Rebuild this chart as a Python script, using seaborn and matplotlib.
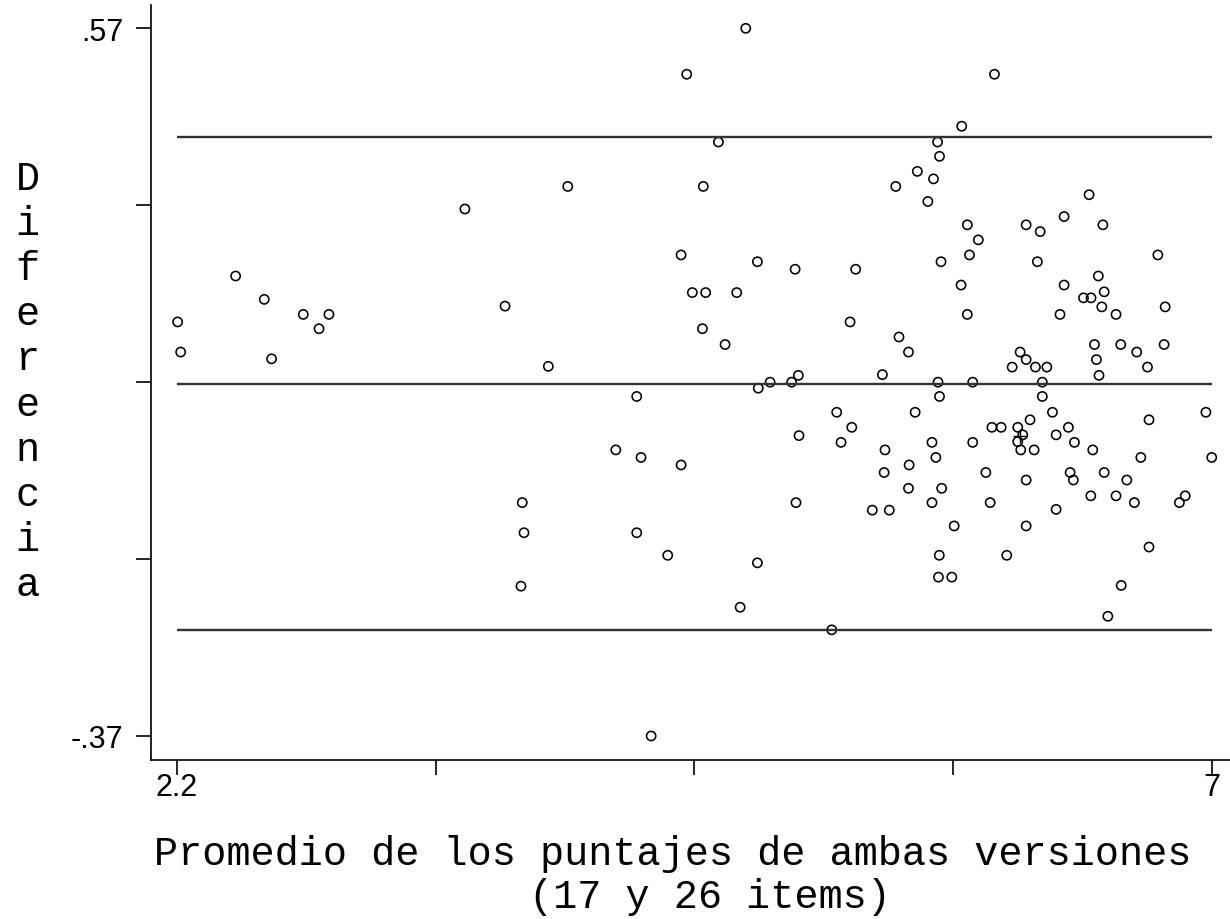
import numpy as np
import pandas as pd
import matplotlib
matplotlib.use("Agg")
import matplotlib.pyplot as plt
import seaborn as sns

# ====================================
# DATA
# ====================================

promedio = [
    2.203, 2.217, 2.472, 2.605, 2.639, 2.786, 2.859, 2.905,
    3.536, 3.722, 3.923, 4.013, 3.802, 3.810, 3.796,
    4.236, 4.333, 4.353, 4.333, 4.400, 4.477, 4.539, 4.539, 4.565,
    4.591, 4.638, 4.642, 4.653,
    4.712, 4.743, 4.797, 4.839, 4.893, 4.897, 4.952, 5.052, 5.068, 5.083,
    5.323, 5.349, 5.473, 5.535, 5.550, 5.594, 5.635, 5.684, 5.710, 5.729,
    5.738, 5.745, 5.731,
    5.738, 5.261, 5.625, 5.331, 5.086, 5.281, 5.703, 5.485, 5.721, 5.597,
    5.481, 5.594, 5.748, 5.703, 5.072, 5.426, 5.505, 5.737, 5.733, 5.795,
    4.893, 4.813, 5.238,
    5.993, 5.841, 6.432, 6.316, 5.867, 6.140, 6.205, 6.496, 5.918, 5.877,
    6.192, 6.751, 5.838, 6.316, 6.475, 6.502, 6.406, 6.441,
    6.491, 6.785, 5.867, 6.297, 6.557, 6.457, 6.579, 6.780, 6.653, 6.112,
    6.140, 6.466, 6.075, 6.183, 6.236, 6.703, 6.478, 5.892, 6.215, 6.215,
    6.262, 6.974, 6.158, 6.710, 5.981, 6.024, 6.101, 6.336,
    6.124, 6.101, 6.279, 6.364, 5.892, 6.115, 6.177, 6.449, 6.672, 7.001,
    5.953, 6.344, 6.359, 6.502, 6.140, 6.607, 5.973, 6.440, 6.557, 6.642,
    6.878, 6.851, 6.279, 5.806, 6.140, 6.710, 6.050, 6.581, 6.519,
]

diferencia = [
    0.180, 0.140, 0.241, 0.210, 0.131, 0.190, 0.171, 0.190,
    0.330, 0.201, 0.121, 0.360, -0.060, -0.100, -0.171,
    0.010, 0.081, 0.000, -0.100, -0.370, -0.130, -0.010, 0.269, 0.509,
    0.219, 0.171, 0.360, 0.219,
    0.419, 0.150, 0.219, 0.570, 0.260, 0.092, 0.100, 0.100, 0.250, 0.109,
    0.180, 0.250, 0.110, 0.360, 0.160, 0.140, 0.380, 0.340, 0.370, 0.419,
    0.400, 0.260, 0.100,
    0.081, 0.060, 0.060, 0.040, 0.029, 0.020, 0.020, 0.010, 0.000, -0.010,
    -0.020, -0.041, -0.041, -0.060, -0.060, -0.070, -0.070, -0.130, -0.159, -0.159,
    -0.140, -0.199, -0.229,
    0.509, 0.440, 0.349, 0.320, 0.309, 0.309, 0.300, 0.309, 0.289, 0.269,
    0.260, 0.269, 0.229, 0.229, 0.241, 0.220, 0.212, 0.212,
    0.200, 0.200, 0.190, 0.190, 0.190, 0.150, 0.150, 0.150, 0.140, 0.140,
    0.130, 0.130, 0.120, 0.120, 0.120, 0.120, 0.109, 0.100, 0.100, 0.081,
    0.060, 0.060, 0.050, 0.050, 0.040, 0.040, 0.040, 0.040,
    0.030, 0.021, 0.030, 0.020, 0.020, 0.010, 0.010, 0.010, 0.000, 0.000,
    -0.020, -0.020, -0.030, -0.020, -0.030, -0.030, -0.060, -0.051, -0.051, -0.060,
    -0.051, -0.060, -0.069, -0.091, -0.091, -0.119, -0.130, -0.170, -0.211,
]

# mean difference and limits of agreement
media_dif = 0.098
limites = [0.425, -0.229]

# small "+" marker near the cloud centre
cruz_x = [6.110]
cruz_y = [0.028]

x_ticks = [2.2, 3.4, 4.6, 5.8, 7]
x_ticklabels = ["2.2", "", "", "", "7"]
y_ticks = [-0.37, -0.135, 0.10, 0.335, 0.57]
y_ticklabels = ["-.37", "", "", "", ".57"]

df = pd.DataFrame({"Promedio": promedio, "Diferencia": diferencia})

# ====================================
# PLOT
# ====================================

sns.set_style("ticks")
plt.rcParams["font.family"] = ["Liberation Sans", "DejaVu Sans"]
plt.rcParams["text.color"] = "black"

fig = plt.figure(figsize=(12.3, 9.2), dpi=100)
ax = fig.add_axes([151 / 1230, 159 / 920, 1 - 151 / 1230, (761 - 6) / 920])

sns.scatterplot(
    data=df, x="Promedio", y="Diferencia", ax=ax,
    marker="o", s=44, facecolor="none", edgecolor="black", linewidth=1.15,
)
ax.scatter(cruz_x, cruz_y, marker="+", s=110, color="black", linewidth=1.0)

for yv in [limites[0], media_dif, limites[1]]:
    ax.hlines(yv, x_ticks[0], x_ticks[-1], color="#333333", linewidth=1.7)

ax.set_xlim(2.0794, 7.0858)
ax.set_ylim(-0.4019, 0.601)
ax.set_xticks(x_ticks)
ax.set_xticklabels(x_ticklabels)
ax.set_yticks(y_ticks)
ax.set_yticklabels(y_ticklabels)
ax.tick_params(axis="both", length=11, width=1.2, color="black",
               labelsize=22, labelcolor="black")
ax.tick_params(axis="x", pad=-2)
ax.tick_params(axis="y", pad=9)

for side in ["top", "right"]:
    ax.spines[side].set_visible(False)
for side in ["left", "bottom"]:
    ax.spines[side].set_linewidth(1.2)
    ax.spines[side].set_color("black")

ax.set_xlabel("")
ax.set_ylabel("")

mono = ["Liberation Mono", "DejaVu Sans Mono"]
fig.text(27.5 / 1230, 1 - 382 / 920, "\n".join("Diferencia"), family=mono,
         fontsize=29, ha="center", va="center", linespacing=1.24, color="black")
fig.text(673 / 1230, 1 - 865 / 920, "Promedio de los puntajes de ambas versiones",
         family=mono, fontsize=29, ha="center", va="baseline", color="black")
fig.text(710 / 1230, 1 - 908 / 920, "(17 y 26 items)",
         family=mono, fontsize=29, ha="center", va="baseline", color="black")

fig.savefig("out.png", dpi=100)
